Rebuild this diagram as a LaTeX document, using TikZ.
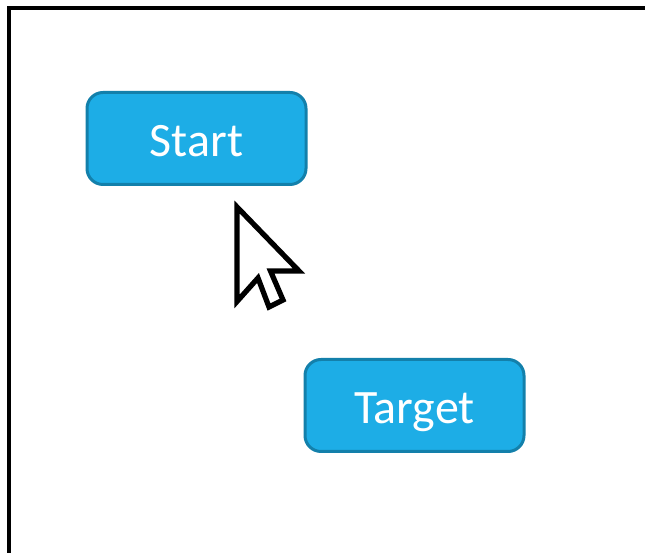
\documentclass[tikz,border=0pt]{standalone}
\usepackage{fontspec}
\setmainfont{Carlito}
\definecolor{btnfill}{HTML}{1DADE6}
\definecolor{btnline}{HTML}{1380AB}
\tikzset{
    btn/.style={rectangle, rounded corners=0.32cm, draw=btnline, fill=btnfill, line width=0.06cm, minimum width=4.38cm, minimum height=1.84cm, inner sep=0pt, text height=0.73cm, text depth=0cm, text=white, font=\fontsize{27.3}{32}\selectfont},
    frameline/.style={line width=0.075cm, draw=black},
    cursorline/.style={line width=0.105cm, draw=black, fill=white, miter limit=10}
}
\begin{document}
\begin{tikzpicture}
    \useasboundingbox (0,0) rectangle (12.9,11.06);

    % window edge
    \draw[frameline] (0.18,0) -- (0.18,10.9) -- (12.9,10.9);

    \node[btn] (start) at (3.93,8.29) {Start};

    \node[btn] (target) at (8.29,2.95) {Target};

    % mouse pointer
    \draw[cursorline] (4.74,6.92) -- (4.74,5.03) -- (5.16,5.5) -- (5.38,4.92) -- (5.66,5.06) -- (5.41,5.64) -- (5.98,5.64) -- cycle;

\end{tikzpicture}
\end{document}
